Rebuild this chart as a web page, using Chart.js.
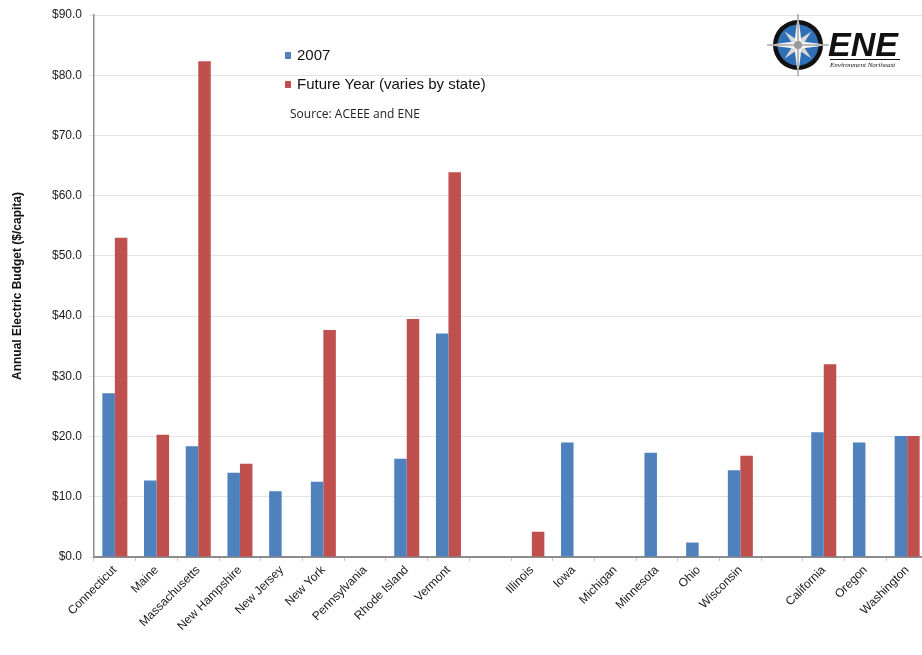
<!DOCTYPE html>
<html>
<head>
<meta charset="utf-8">
<script src="https://cdn.jsdelivr.net/npm/chart.js@4.4.1/dist/chart.umd.min.js"></script>
<style>
  html, body { margin: 0; padding: 0; background: #fff; overflow: hidden; }
  /* the original plot runs slightly past the right edge of the image, so the canvas is clipped */
  #wrap { position: relative; width: 922px; height: 655px; overflow: hidden; }
</style>
</head>
<body>
<div id="wrap"><canvas id="budgetChart" width="928" height="655"></canvas></div>
<script>
// states, with empty slots separating the regional groups
var categories = ['Connecticut', 'Maine', 'Massachusetts', 'New Hampshire', 'New Jersey', 'New York',
  'Pennsylvania', 'Rhode Island', 'Vermont', '', 'Illinois', 'Iowa', 'Michigan', 'Minnesota', 'Ohio',
  'Wisconsin', '', 'California', 'Oregon', 'Washington'];

// $/capita
var values2007 = [27.2, 12.7, 18.4, 14.0, 10.9, 12.5, null, 16.3, 37.1, null,
  null, 19.0, null, 17.3, 2.4, 14.4, null, 20.7, 19.0, 20.1];
var valuesFuture = [53.0, 20.3, 82.3, 15.5, null, 37.7, null, 39.5, 63.9, null,
  4.2, null, null, null, null, 16.8, null, 32.0, null, 20.1];

var seriesNames = ['2007', 'Future Year (varies by state)'];
var sourceNote = 'Source: ACEEE and ENE';
var yTicks = [0, 10, 20, 30, 40, 50, 60, 70, 80, 90];

var BLUE = '#4F81BD';
var RED = '#C0504D';

// legend, source note and the ENE logo are drawn on top of the chart
var overlayPlugin = {
  id: 'overlay',
  afterDraw: function(chart) {
    var ctx = chart.ctx;
    ctx.save();

    // legend
    var colors = [BLUE, RED];
    var rows = [55, 84];
    ctx.font = '15px "Liberation Sans", Arial, sans-serif';
    ctx.textBaseline = 'middle';
    ctx.textAlign = 'left';
    for (var i = 0; i < 2; i++) {
      ctx.fillStyle = colors[i];
      ctx.fillRect(285, rows[i] - 3, 6, 7);
      ctx.fillStyle = '#111';
      ctx.fillText(seriesNames[i], 297, rows[i] + 1);
    }
    ctx.font = '12px "Open Sans", "DejaVu Sans", sans-serif';
    ctx.fillStyle = '#222';
    ctx.fillText(sourceNote, 290, 115);

    // compass
    var cx = 798, cy = 45;
    ctx.beginPath();
    ctx.arc(cx, cy, 25, 0, Math.PI * 2);
    ctx.fillStyle = '#111';
    ctx.fill();
    ctx.beginPath();
    ctx.arc(cx, cy, 20.5, 0, Math.PI * 2);
    ctx.fillStyle = '#2f6fb5';
    ctx.fill();
    function point(angle, len, fill) {
      var a = angle * Math.PI / 180;
      ctx.beginPath();
      ctx.moveTo(cx + Math.cos(a) * len, cy + Math.sin(a) * len);
      ctx.lineTo(cx + Math.cos(a + Math.PI / 2) * 4, cy + Math.sin(a + Math.PI / 2) * 4);
      ctx.lineTo(cx + Math.cos(a - Math.PI / 2) * 4, cy + Math.sin(a - Math.PI / 2) * 4);
      ctx.closePath();
      ctx.fillStyle = fill;
      ctx.fill();
    }
    [45, 135, 225, 315].forEach(function(a) { point(a, 19, '#d8d8d8'); });
    [0, 90, 180, 270].forEach(function(a) { point(a, 31, '#f2f2f2'); });
    ctx.strokeStyle = '#333';
    ctx.lineWidth = 0.6;
    [0, 90, 180, 270].forEach(function(a) {
      var r = a * Math.PI / 180;
      ctx.beginPath();
      ctx.moveTo(cx, cy);
      ctx.lineTo(cx + Math.cos(r) * 31, cy + Math.sin(r) * 31);
      ctx.stroke();
    });
    ctx.beginPath();
    ctx.arc(cx, cy, 4, 0, Math.PI * 2);
    ctx.fillStyle = '#999';
    ctx.fill();

    // wordmark
    ctx.fillStyle = '#111';
    ctx.font = 'italic bold 34px "Liberation Sans", Arial, sans-serif';
    ctx.textBaseline = 'alphabetic';
    ctx.fillText('ENE', 828, 56);
    ctx.fillRect(830, 59, 70, 1);
    ctx.font = 'italic 7px "Liberation Serif", serif';
    ctx.fillText('Environment Northeast', 830, 67);

    ctx.restore();
  }
};

var ctx = document.getElementById('budgetChart').getContext('2d');
new Chart(ctx, {
  type: 'bar',
  data: {
    labels: categories,
    datasets: [{
      label: seriesNames[0],
      data: values2007,
      backgroundColor: BLUE,
      categoryPercentage: 0.6,
      barPercentage: 1.0
    }, {
      label: seriesNames[1],
      data: valuesFuture,
      backgroundColor: RED,
      categoryPercentage: 0.6,
      barPercentage: 1.0
    }]
  },
  options: {
    responsive: false,
    animation: false,
    layout: { padding: { top: 15, right: 0, left: 0, bottom: 0 } },
    plugins: {
      legend: { display: false },
      tooltip: { enabled: false }
    },
    scales: {
      x: {
        grid: {
          display: true,
          drawOnChartArea: false,
          offset: true,
          tickLength: 4,
          color: '#c8c8c8'
        },
        border: { color: '#8c8c8c', width: 2 },
        ticks: {
          autoSkip: false,
          maxRotation: 45,
          minRotation: 45,
          padding: 2,
          color: '#1a1a1a',
          font: { family: '"Liberation Sans", Arial, sans-serif', size: 12 }
        },
        afterFit: function(scale) { scale.height = 98; }
      },
      y: {
        min: 0,
        max: 90,
        afterBuildTicks: function(scale) {
          scale.ticks = yTicks.map(function(v) { return { value: v }; });
        },
        grid: { color: '#e2e2e2', tickLength: 5 },
        border: { color: '#8c8c8c', width: 1.5 },
        ticks: {
          padding: 7,
          color: '#1a1a1a',
          font: { family: '"Liberation Sans", Arial, sans-serif', size: 12 },
          callback: function(v) { return '$' + Number(v).toFixed(1); }
        },
        title: {
          display: true,
          text: 'Annual Electric Budget ($/capita)',
          color: '#111',
          padding: { top: 10, bottom: 0 },
          font: { family: '"Liberation Sans", Arial, sans-serif', size: 12, weight: 'bold' }
        },
        afterFit: function(scale) { scale.width = 94; }
      }
    }
  },
  plugins: [overlayPlugin]
});
</script>
</body>
</html>
